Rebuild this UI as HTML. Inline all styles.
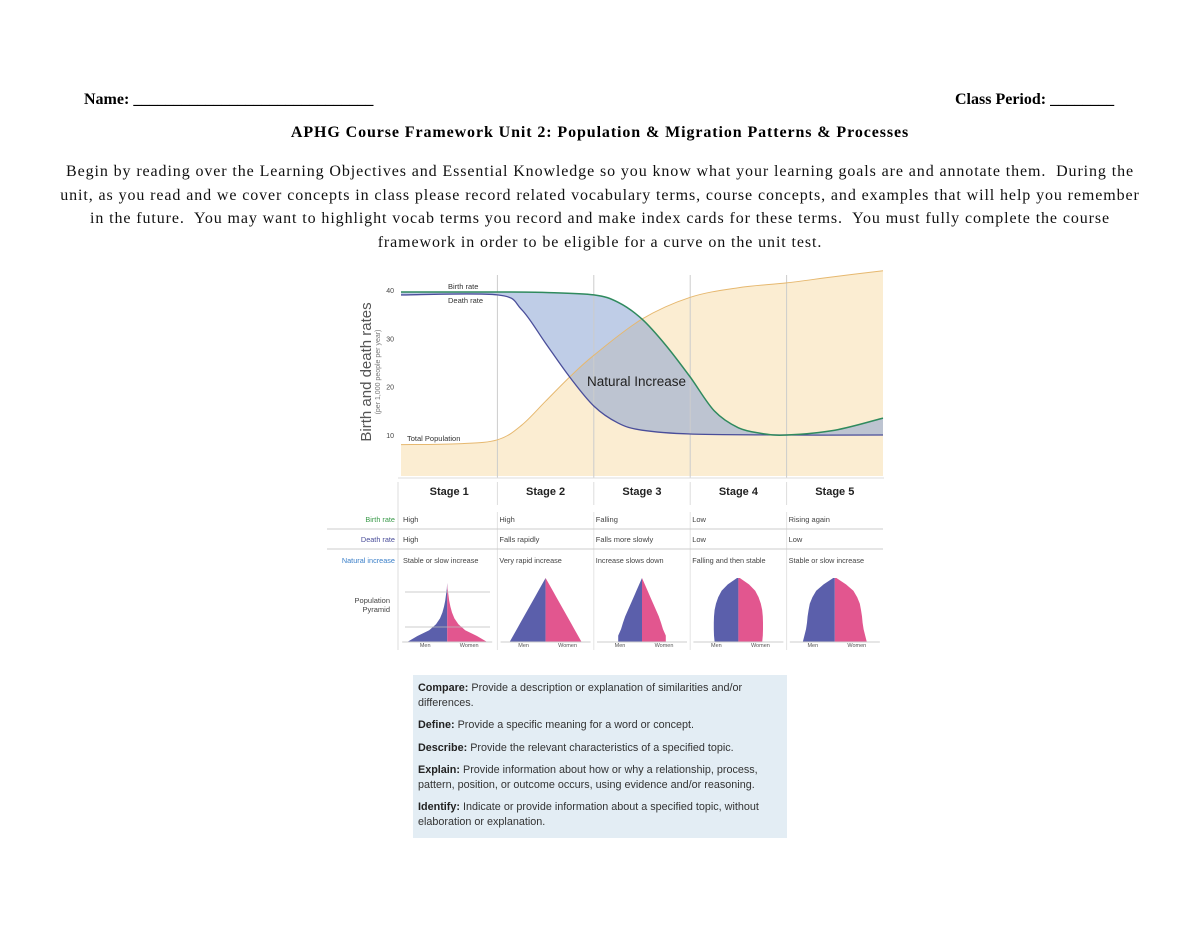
<!DOCTYPE html>
<html><head><meta charset="utf-8"><style>
body{margin:0;background:#fff;width:1200px;height:927px;position:relative;overflow:hidden;font-family:"Liberation Serif",serif;}
.abs{position:absolute;}
#para{left:0;width:1200px;top:160px;text-align:center;font-size:16px;line-height:23.5px;color:#111;white-space:nowrap;letter-spacing:0.9px;}
#box{left:413px;top:675px;width:374px;height:163px;background:#e3edf4;font-family:"Liberation Sans",sans-serif;font-size:10.8px;color:#333;box-sizing:border-box;padding:6px 0 0 5px;line-height:14.5px;}
#box p{margin:0 0 8px 0;}
#box b{color:#222;}
</style></head><body>
<div class="abs" style="left:84px;top:91px;font-size:16px;font-weight:bold;">Name: ______________________________</div>
<div class="abs" style="left:955px;top:91px;font-size:16px;font-weight:bold;">Class Period: ________</div>
<div class="abs" style="left:0;width:1200px;top:124px;text-align:center;font-size:16px;font-weight:bold;letter-spacing:0.9px;">APHG Course Framework Unit 2: Population &amp; Migration Patterns &amp; Processes</div>
<div id="para" class="abs">Begin by reading over the Learning Objectives and Essential Knowledge so you know what your learning goals are and annotate them.&nbsp; During the<br>unit, as you read and we cover concepts in class please record related vocabulary terms, course concepts, and examples that will help you remember<br>in the future.&nbsp; You may want to highlight vocab terms you record and make index cards for these terms.&nbsp; You must fully complete the course<br>framework in order to be eligible for a curve on the unit test.</div>

<svg class="abs" style="left:0;top:0" width="1200" height="927" font-family="Liberation Sans, sans-serif">
<g id="g"></g>
</svg>

<div id="box" class="abs">
<p><b>Compare:</b> Provide a description or explanation of similarities and/or differences.</p>
<p><b>Define:</b> Provide a specific meaning for a word or concept.</p>
<p><b>Describe:</b> Provide the relevant characteristics of a specified topic.</p>
<p><b>Explain:</b> Provide information about how or why a relationship, process, pattern, position, or outcome occurs, using evidence and/or reasoning.</p>
<p><b>Identify:</b> Indicate or provide information about a specified topic, without elaboration or explanation.</p>
</div>

<script>
const birthS=[0,1,1.5,2,2.25,2.5,2.75,3,3.25,3.5,3.75,4,4.5,5];
const birthV=[39.6,39.6,39.5,39,37.5,34,28.5,22,15,11.5,10.3,10,11,13.5];
const deathS=[0,1,1.25,1.5,1.75,2,2.25,2.5,3,4,5];
const deathV=[39,39,36,29,22,16,12.5,11,10.2,10,10];
const popS=[0,0.6,1,1.25,1.5,1.75,2,2.5,3,3.5,4,4.5,5];
const popV=[8,8.2,9,12,17,22,26.5,34,38.5,40.5,41.5,42.8,44];
const yTicks=[10,20,30,40];
const stages=["Stage 1","Stage 2","Stage 3","Stage 4","Stage 5"];
const birthTxt=["High","High","Falling","Low","Rising again"];
const deathTxt=["High","Falls rapidly","Falls more slowly","Low","Low"];
const natTxt=["Stable or slow increase","Very rapid increase","Increase slows down","Falling and then stable","Stable or slow increase"];

const X0=401,SW=96.4;
const xs=s=>X0+s*SW;
const ys=v=>435-(v-10)*4.83;
const NS="http://www.w3.org/2000/svg";
const g=document.getElementById('g');
function mk(t,a,txt){const e=document.createElementNS(NS,t);for(const k in a)e.setAttribute(k,a[k]);if(txt!==undefined)e.textContent=txt;g.appendChild(e);return e;}
function pts(S,V){return S.map((s,i)=>[xs(s),ys(V[i])]);}
function curve(P){let d="";for(let i=0;i<P.length-1;i++){const p0=P[Math.max(0,i-1)],p1=P[i],p2=P[i+1],p3=P[Math.min(P.length-1,i+2)];
const c1=[p1[0]+(p2[0]-p0[0])/6,p1[1]+(p2[1]-p0[1])/6],c2=[p2[0]-(p3[0]-p1[0])/6,p2[1]-(p3[1]-p1[1])/6];
d+=" C"+c1[0].toFixed(1)+","+c1[1].toFixed(1)+" "+c2[0].toFixed(1)+","+c2[1].toFixed(1)+" "+p2[0].toFixed(1)+","+p2[1].toFixed(1);}return d;}
const bP=pts(birthS,birthV),dP=pts(deathS,deathV),pP=pts(popS,popV);
const base=476;
let e;
e=mk('path',{d:"M"+pP[0][0]+","+base+" L"+pP[0].join(",")+curve(pP)+" L"+pP[pP.length-1][0]+","+base+" Z",fill:"#fbedd2",stroke:"none"});

const dR=dP.slice().reverse();
e=mk('path',{d:"M"+bP[0].join(",")+curve(bP)+" L"+dR[0].join(",")+curve(dR)+" Z",fill:"#7f9bd0",opacity:"0.5"});

for(let i=1;i<5;i++){e=mk('line',{x1:xs(i),x2:xs(i),y1:275,y2:478,stroke:"#ccc","stroke-width":1});
}
e=mk('line',{x1:398,x2:884,y1:478,y2:478,stroke:"#ddd"});

e=mk('path',{d:"M"+pP[0].join(",")+curve(pP),fill:"none",stroke:"#e6b86f","stroke-width":1});

e=mk('path',{d:"M"+dP[0].join(",")+curve(dP),fill:"none",stroke:"#4a4e9a","stroke-width":1.3});

e=mk('path',{d:"M"+bP[0].join(",")+curve(bP),fill:"none",stroke:"#2f8a5e","stroke-width":1.5});

yTicks.forEach(v=>{e=mk('text',{x:394,y:ys(v)+3,"font-size":7,"text-anchor":"end",fill:"#444"},v);
});
e=mk('text',{x:0,y:0,"font-size":15,fill:"#555",transform:"translate(371,372) rotate(-90)","text-anchor":"middle"},"Birth and death rates");

e=mk('text',{x:0,y:0,"font-size":7,fill:"#777",transform:"translate(380,372) rotate(-90)","text-anchor":"middle"},"(per 1,000 people per year)");

e=mk('text',{x:448,y:289,"font-size":7.5,fill:"#333"},"Birth rate");
e=mk('text',{x:448,y:303,"font-size":7.5,fill:"#333"},"Death rate");
e=mk('text',{x:407,y:441,"font-size":7.5,fill:"#333"},"Total Population");
e=mk('text',{x:587,y:386,"font-size":13.5,fill:"#222"},"Natural Increase");
stages.forEach((s,i)=>{const cx=xs(i+0.5),lx=xs(i)+2;
e=mk('text',{x:cx,y:495,"font-size":11,"font-weight":"bold","text-anchor":"middle",fill:"#222"},s);

e=mk('text',{x:lx,y:522,"font-size":7.5,fill:"#444"},birthTxt[i]);
e=mk('text',{x:lx,y:542,"font-size":7.5,fill:"#444"},deathTxt[i]);
e=mk('text',{x:lx,y:563,"font-size":7.3,fill:"#444"},natTxt[i]);
if(i>0){e=mk('line',{x1:xs(i),x2:xs(i),y1:482,y2:505,stroke:"#ddd"});
e=mk('line',{x1:xs(i),x2:xs(i),y1:512,y2:650,stroke:"#e4e4e4"});}
});
e=mk('line',{x1:398,x2:398,y1:482,y2:650,stroke:"#ddd"});
[['Birth rate','#3a9a4a',522],['Death rate','#4a4e9a',542],['Natural increase','#3a7fc8',563]].forEach(r=>{
e=mk('text',{x:395,y:r[2],"font-size":7.3,"text-anchor":"end",fill:r[1]},r[0]);});
[529,549].forEach(y=>{e=mk('line',{x1:327,x2:883,y1:y,y2:y,stroke:"#ccc"});});
e=mk('text',{x:390,y:603,"font-size":7.5,"text-anchor":"end",fill:"#444"},"Population");
e=mk('text',{x:390,y:612,"font-size":7.5,"text-anchor":"end",fill:"#444"},"Pyramid");
const shapes=[
 [1,0.75,0.45,0.28,0.18,0.12,0.08,0.05,0.03,0.01,0],
 [1,0.9,0.8,0.7,0.6,0.5,0.4,0.3,0.2,0.1,0],
 [0.85,0.85,0.75,0.68,0.6,0.5,0.4,0.3,0.2,0.1,0],
 [0.85,0.87,0.88,0.88,0.87,0.85,0.8,0.72,0.6,0.38,0.05],
 [1,0.95,0.9,0.87,0.85,0.82,0.78,0.7,0.58,0.35,0.05]];
const pyBot=[642,642,642,642,642],pyTop=[583,578,578,578,578],pyW=[40,36,28,28,32];
shapes.forEach((sh,i)=>{const cx=xs(i+0.5)+ (i==0?-2:0),n=sh.length;
let L="",R="";
sh.forEach((w,k)=>{const y=pyBot[i]-(pyBot[i]-pyTop[i])*k/(n-1);L+=(k?" L":"M")+(cx-w*pyW[i]).toFixed(1)+","+y.toFixed(1);R=" L"+(cx+w*pyW[i]).toFixed(1)+","+y.toFixed(1)+R;});
e=mk('path',{d:L+" L"+cx+","+pyTop[i]+" L"+cx+","+pyBot[i]+" Z",fill:"#5b5fab"});
e=mk('path',{d:"M"+cx+","+pyBot[i]+" L"+cx+","+pyTop[i]+R+" Z",fill:"#e2568f"});
e=mk('line',{x1:cx-45,x2:cx+45,y1:642,y2:642,stroke:"#ccc"});
e=mk('text',{x:cx-22,y:647,"font-size":5.5,"text-anchor":"middle",fill:"#555"},"Men");
e=mk('text',{x:cx+22,y:647,"font-size":5.5,"text-anchor":"middle",fill:"#555"},"Women");
});
[592,627].forEach(y=>{e=mk('line',{x1:405,x2:490,y1:y,y2:y,stroke:"#bbb","stroke-width":0.7});});
</script>
</body></html>
